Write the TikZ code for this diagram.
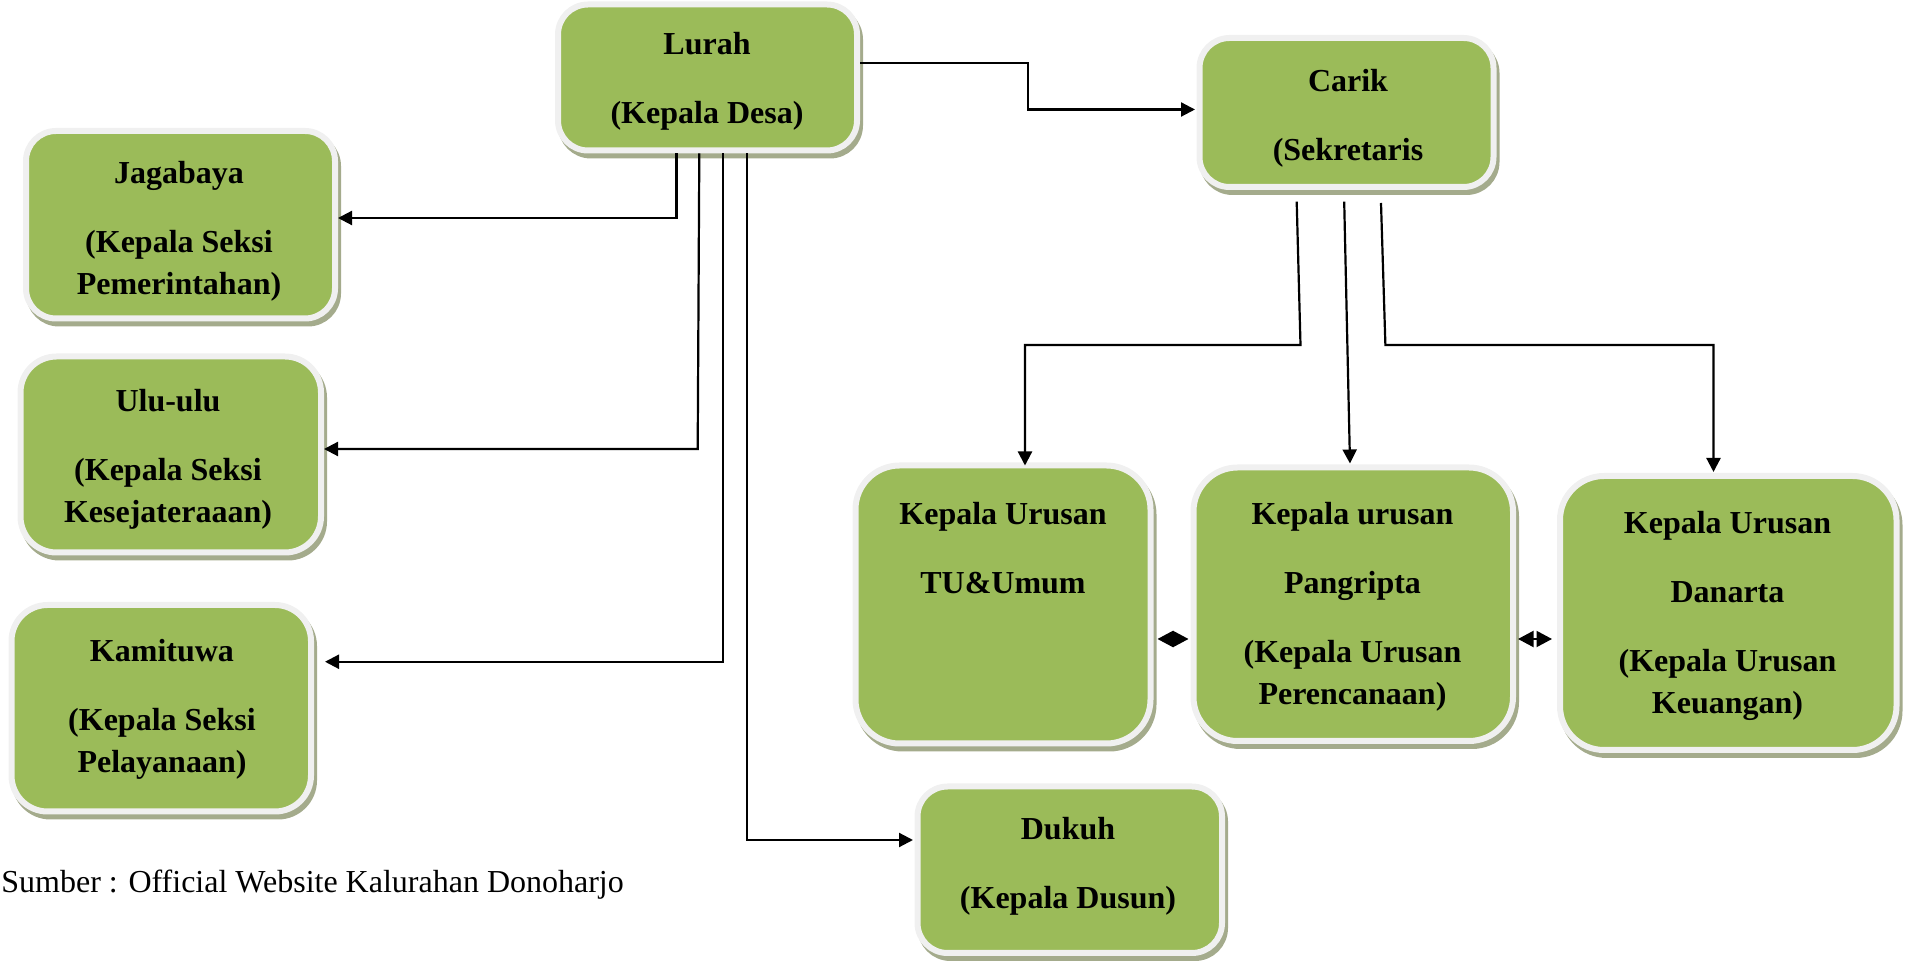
\documentclass[tikz,border=0pt]{standalone}
\usepackage{fontspec}
\setmainfont{Liberation Serif}
\usetikzlibrary{shadows,arrows.meta,calc}
\definecolor{boxgreen}{HTML}{9BBB59}
\definecolor{boxshadow}{HTML}{A4AB8C}
\definecolor{boxrim}{HTML}{F0F0F0}
\newcommand{\fstrut}{\rule{0pt}{12pt}}
\begin{document}
\begin{tikzpicture}[x=0.5pt,y=-0.5pt,
  box/.style={draw=boxrim, line width=3pt, fill=boxgreen, rounded corners=15pt, inner sep=0pt,
    drop shadow={shadow xshift=1.5pt, shadow yshift=-2.5pt, fill=boxshadow, draw=boxshadow, line width=3pt, opacity=1}},
  bigbox/.style={box, rounded corners=22pt},
  midbox/.style={box, rounded corners=18pt},
  txt/.style={font=\fontsize{16}{21}\selectfont\bfseries, align=center, inner sep=0pt, anchor=north},
  conn/.style={line width=1.1pt, -{Triangle[length=7pt,width=7pt]}},
  dia/.style={line width=1pt, {Triangle[length=7.75pt,width=8pt]}-{Triangle[length=7.75pt,width=8pt]}}
]
\useasboundingbox (0,0) rectangle (1908,961);

% boxes
\node[box, minimum width=149.5pt, minimum height=73pt] (lurah) at (707.5,77.5) {};
\node[box, minimum width=147pt, minimum height=74.5pt] (carik) at (1346.5,112.5) {};
\node[box, minimum width=154.5pt, minimum height=93.75pt] (jaga) at (180.5,224.75) {};
\node[midbox, minimum width=150.25pt, minimum height=98pt] (ulu) at (170.75,454.5) {};
\node[midbox, minimum width=149.75pt, minimum height=103.25pt] (kam) at (161.25,708.25) {};
\node[bigbox, minimum width=147.5pt, minimum height=139pt] (tu) at (1003,604.5) {};
\node[bigbox, minimum width=159.75pt, minimum height=136.75pt] (pang) at (1353.25,604.25) {};
\node[bigbox, minimum width=168.25pt, minimum height=137pt] (dan) at (1728.25,613) {};
\node[box, minimum width=152.25pt, minimum height=83.25pt] (dukuh) at (1069.75,869.75) {};

% texts
\node[txt] (lurahT) at (707,30) {\fstrut Lurah\\[13.5pt](Kepala Desa)};
\node[txt] (carikT) at (1348,67) {\fstrut Carik\\[13.5pt](Sekretaris};
\node[txt] (jagaT) at (179,159) {\fstrut Jagabaya\\[13.5pt](Kepala Seksi\\Pemerintahan)};
\node[txt] (uluT) at (168,387) {\fstrut Ulu-ulu\\[13.5pt](Kepala Seksi\\Kesejateraaan)};
\node[txt] (kamT) at (162,637) {\fstrut Kamituwa\\[13.5pt](Kepala Seksi\\Pelayanaan)};
\node[txt] (tuT) at (1003,500) {\fstrut Kepala Urusan\\[13.5pt]TU\&Umum};
\node[txt] (pangT) at (1352.5,500) {\fstrut Kepala urusan\\[13.5pt]Pangripta\\[13.5pt](Kepala Urusan\\Perencanaan)};
\node[txt] (danT) at (1727.5,509) {\fstrut Kepala Urusan\\[13.5pt]Danarta\\[13.5pt](Kepala Urusan\\Keuangan)};
\node[txt] (dukuhT) at (1068,815) {\fstrut Dukuh\\[13.5pt](Kepala Dusun)};

\node[anchor=base west, inner sep=0pt, font=\fontsize{16}{19}\selectfont] (src) at (1,893) {Sumber : Official Website Kalurahan Donoharjo};

% connectors from Lurah
\draw[conn] ($(lurah.south)+(-31,0)$) |- ($(jaga.east)+(0,-6.75)$);
\draw[conn] ($(lurah.south)+(-8.2,0)$) -- ($(ulu.east)+(373.7,-5.5)$) -- ($(ulu.east)+(0,-5.5)$);
\draw[conn] ($(lurah.south)+(15.2,0)$) |- ($(kam.east)+(11,-46.5)$);
\draw[conn] ($(lurah.south)+(39.2,0)$) |- ($(dukuh.west)+(-1.5,-29.75)$);
\draw[conn] ($(lurah.east)+(0,-14.5)$) -| ($(carik.west)+(-168.5,-3)$) -- ($(carik.west)+(-1.5,-3)$);

% connectors from Carik
\draw[conn] ($(carik.south)+(-49.8,11.7)$) -- ($(carik.south)+(-46,155)$) -| ($(tu.north)+(22,3)$);
\draw[conn] ($(carik.south)+(-2.3,11.7)$) -- ($(pang.north)+(-3.25,-1)$);
\draw[conn] ($(carik.south)+(34.5,13)$) -- ($(carik.south)+(38.9,155)$) -| ($(dan.north)+(-14.75,-1)$);

% two-headed links
\draw[dia] ($(tu.east)+(4,34.5)$) -- ($(pang.west)+(-2,34.75)$);
\draw[dia] ($(pang.east)+(2,34.75)$) -- ($(dan.west)+(-5,26)$);
\end{tikzpicture}
\end{document}
